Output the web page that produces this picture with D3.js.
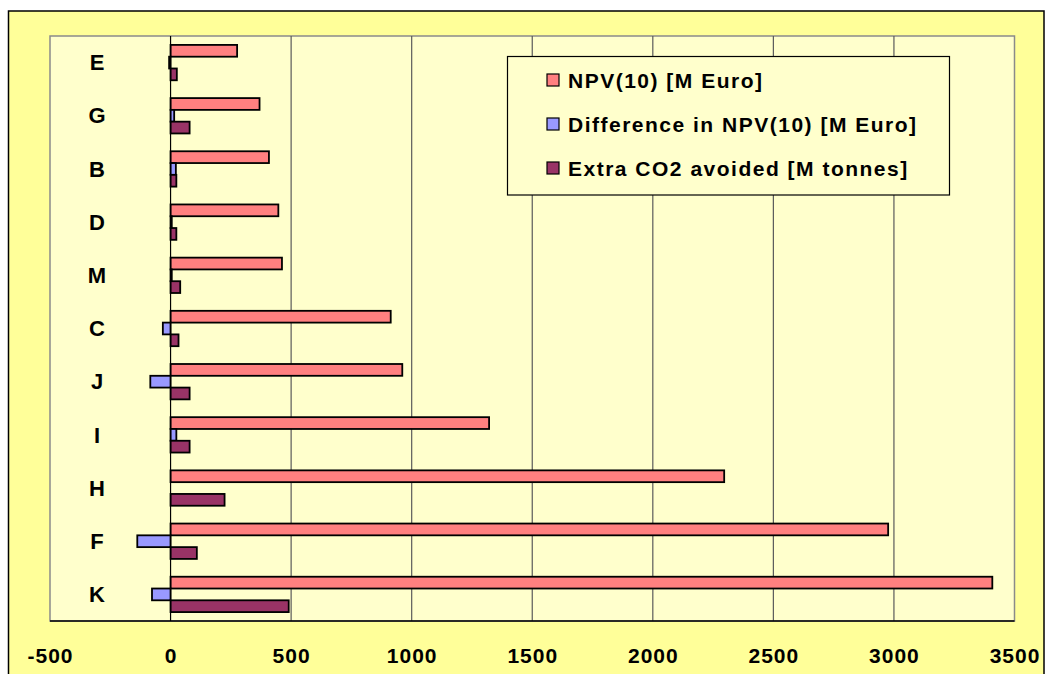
<!DOCTYPE html>
<html>
<head>
<meta charset="utf-8">
<script src="https://cdn.jsdelivr.net/npm/d3@7"></script>
<style>
  html, body { margin: 0; padding: 0; background: #ffffff; }
  svg { display: block; }
  text { font-family: "Liberation Sans", Arial, sans-serif; font-weight: bold; fill: #000; }
</style>
</head>
<body>
<script>
// Projects, listed top to bottom
const categories = ["E", "G", "B", "D", "M", "C", "J", "I", "H", "F", "K"];

// Series values, one per project (same order as categories)
const npv10 = [276, 369, 408, 447, 462, 913, 961, 1321, 2296, 2976, 3408];
const diffNpv10 = [-6, 15, 22, 5, 5, -32, -84, 24, 0, -138, -77];
const extraCo2 = [26, 79, 24, 24, 40, 33, 79, 79, 224, 109, 490];

const seriesNames = ["NPV(10) [M Euro]", "Difference in NPV(10) [M Euro]", "Extra CO2 avoided [M tonnes]"];
const seriesColors = ["#ff8080", "#9999ff", "#993366"];
const tickValues = [-500, 0, 500, 1000, 1500, 2000, 2500, 3000, 3500];

const W = 1047, H = 674;
const plot = { left: 50, top: 36, right: 1014.5, bottom: 621 };

const svg = d3.select("body").append("svg").attr("width", W).attr("height", H);

// Outer chart frame
svg.append("rect")
  .attr("x", 8.5).attr("y", 11)
  .attr("width", 1035.5).attr("height", 700)
  .attr("fill", "#ffff99").attr("stroke", "#000").attr("stroke-width", 1.5);

// Plot area
svg.append("rect")
  .attr("x", plot.left).attr("y", plot.top)
  .attr("width", plot.right - plot.left).attr("height", plot.bottom - plot.top)
  .attr("fill", "#ffffcc").attr("stroke", "#8a8a8a").attr("stroke-width", 1.5);

const x = d3.scaleLinear().domain([-500, 3500]).range([plot.left, plot.right]);

const y = d3.scaleBand().domain(categories)
  .range([plot.top, plot.bottom])
  .paddingInner(0.335).paddingOuter(0.1675);

const ySeries = d3.scaleBand().domain(d3.range(3)).range([0, y.bandwidth()]).padding(0);

// Vertical gridlines
svg.append("g").selectAll("line")
  .data(tickValues.filter(v => v > 0 && v < 3500))
  .join("line")
  .attr("x1", d => x(d)).attr("x2", d => x(d))
  .attr("y1", plot.top).attr("y2", plot.bottom)
  .attr("stroke", "#5a5a5a").attr("stroke-width", 1.2);

// Bars
const rows = categories.map((c, i) => ({ cat: c, values: [npv10[i], diffNpv10[i], extraCo2[i]] }));
const groups = svg.append("g").selectAll("g")
  .data(rows).join("g")
  .attr("transform", d => `translate(0,${y(d.cat)})`);

groups.selectAll("rect")
  .data(d => d.values.map((v, k) => ({ v, k })))
  .join("rect")
  .attr("x", d => x(Math.min(0, d.v)))
  .attr("width", d => Math.abs(x(d.v) - x(0)))
  .attr("y", d => ySeries(d.k))
  .attr("height", ySeries.bandwidth())
  .attr("fill", d => seriesColors[d.k])
  .attr("stroke", "#000").attr("stroke-width", 1.8);

// Zero line
svg.append("line")
  .attr("x1", x(0)).attr("x2", x(0))
  .attr("y1", plot.top).attr("y2", plot.bottom)
  .attr("stroke", "#000").attr("stroke-width", 1.2);

// Bottom axis line
svg.append("line")
  .attr("x1", plot.left).attr("x2", plot.right)
  .attr("y1", plot.bottom).attr("y2", plot.bottom)
  .attr("stroke", "#000").attr("stroke-width", 1.5);

// X axis tick labels
const xAxis = d3.axisBottom(x).tickValues(tickValues).tickFormat(d3.format("d")).tickSize(0).tickPadding(0);
const gx = svg.append("g").attr("transform", `translate(0,${plot.bottom})`).call(xAxis);
gx.select(".domain").remove();
gx.selectAll("text")
  .attr("y", 35).attr("dy", "0.35em")
  .text(d => String(d).replace("\u2212", "-"))
  .style("font-size", "21px").style("letter-spacing", "1px")
  .style("font-family", "'Liberation Sans', Arial, sans-serif").style("font-weight", "bold");

// Category labels
const yAxis = d3.axisLeft(y).tickSize(0).tickPadding(0);
const gy = svg.append("g").attr("transform", `translate(97,0)`).call(yAxis);
gy.select(".domain").remove();
gy.selectAll("text")
  .attr("x", 0).attr("text-anchor", "middle").attr("dy", "0.35em")
  .style("font-size", "22px")
  .style("font-family", "'Liberation Sans', Arial, sans-serif").style("font-weight", "bold");

// Legend
const legend = svg.append("g");
legend.append("rect")
  .attr("x", 507.5).attr("y", 56.5).attr("width", 442).attr("height", 138.5)
  .attr("fill", "#ffffcc").attr("stroke", "#000").attr("stroke-width", 1.2);
const legendRows = legend.selectAll("g.item")
  .data(seriesNames).join("g").attr("class", "item")
  .attr("transform", (d, i) => `translate(547,${80 + i * 44})`);
legendRows.append("rect")
  .attr("x", 0).attr("y", -6).attr("width", 12).attr("height", 12)
  .attr("fill", (d, i) => seriesColors[i]).attr("stroke", "#000").attr("stroke-width", 1.2);
legendRows.append("text")
  .attr("x", 21).attr("dy", "0.36em")
  .style("font-size", "21px").style("letter-spacing", "1.5px")
  .text(d => d);
</script>
</body>
</html>
